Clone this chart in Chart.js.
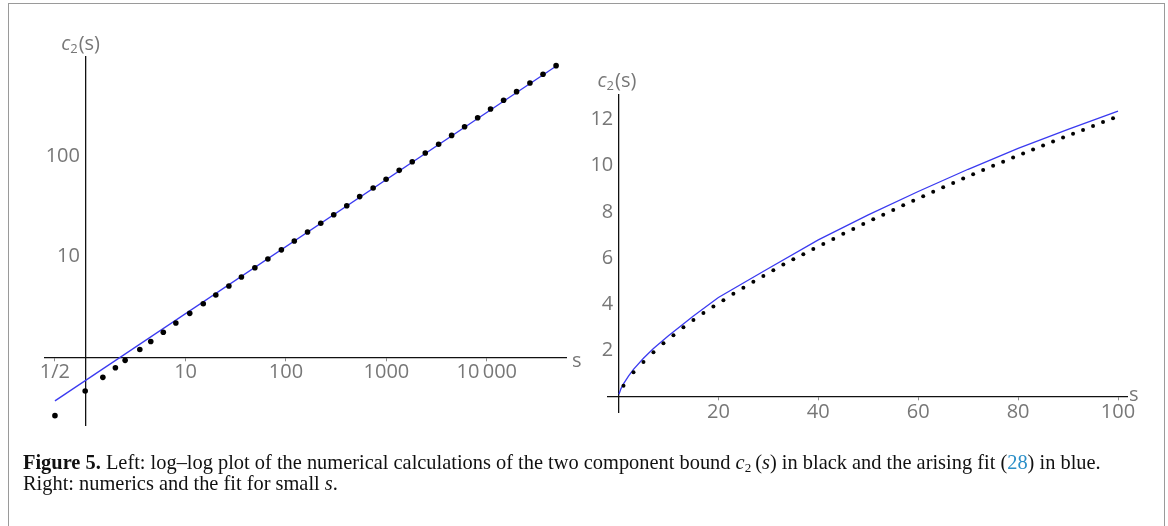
<!DOCTYPE html>
<html>
<head>
<meta charset="utf-8">
<script src="https://cdn.jsdelivr.net/npm/chart.js@4"></script>
<style>
  html, body { margin: 0; padding: 0; background: #fff; }
  body { width: 1168px; height: 526px; position: relative; overflow: hidden; }
  #frame { position: absolute; left: 8px; top: 3px; width: 1155px; height: 540px; border: 1.5px solid #9a9a9a; }
  #left { position: absolute; left: 0; top: 0; }
  #right { position: absolute; left: 590px; top: 40px; }
  #caption { position: absolute; left: 23px; top: 452px; width: 1130px; white-space: nowrap;
             font-family: "Liberation Serif", serif; font-size: 20.4px; line-height: 21px; color: #111; }
  #caption .ref { color: #2b8fc8; }
  #caption sub { font-size: 13px; vertical-align: -3px; line-height: 0; }
</style>
</head>
<body>
<div id="frame"></div>
<canvas id="left" width="590" height="440"></canvas>
<canvas id="right" width="578" height="420"></canvas>
<div id="caption"><b>Figure 5.</b> Left: log–log plot of the numerical calculations of the two component bound <i>c</i><sub>2</sub>&#8201;(<i>s</i>) in black and the arising fit (<span class="ref">28</span>) in blue.<br>Right: numerics and the fit for small <i>s</i>.</div>
<script>
// left panel: log-log numerics and fit
const leftS = [0.5, 1, 1.5, 2, 2.5, 3.5, 4.5, 6, 8, 11, 15, 20, 27, 36, 49, 66, 90, 121, 164, 222,
  299, 403, 542, 738, 993, 1342, 1810, 2440, 3313, 4465, 6010, 8110, 10900, 14700, 19800, 26900, 36300, 49000];
const leftC = [0.264, 0.464, 0.634, 0.79, 0.935, 1.2, 1.44, 1.78, 2.2, 2.74, 3.41, 4.17, 5.12, 6.29, 7.78, 9.5,
  11.7, 14.3, 17.6, 21.5, 26.1, 32.1, 39.5, 48.1, 58.7, 72, 87.7, 107, 130.6, 160, 195, 240, 293, 357, 435, 531, 648, 789];
const leftFitS = [0.5, 51000];
const leftFitC = [0.37, 800];
const leftXTicks = [0.5, 10, 100, 1000, 10000];
const leftXLabels = ['1/2', '10', '100', '1000', '10\u2009000'];
const leftYTicks = [10, 100];
const leftYLabels = ['10', '100'];

// right panel: linear, small s
const rightS = [1, 3, 5, 7, 9, 11, 13, 15, 17, 19, 21, 23, 25, 27, 29, 31, 33, 35, 37, 39, 41, 43, 45, 47, 49,
  51, 53, 55, 57, 59, 61, 63, 65, 67, 69, 71, 73, 75, 77, 79, 81, 83, 85, 87, 89, 91, 93, 95, 97, 99];
const rightC = [0.48, 1.07, 1.51, 1.93, 2.32, 2.67, 3.01, 3.33, 3.63, 3.91, 4.18, 4.46, 4.72, 4.98, 5.23, 5.48,
  5.72, 5.95, 6.17, 6.39, 6.61, 6.83, 7.05, 7.26, 7.47, 7.68, 7.88, 8.08, 8.28, 8.48, 8.67, 8.87, 9.06, 9.25,
  9.44, 9.63, 9.81, 9.99, 10.17, 10.35, 10.52, 10.69, 10.87, 11.04, 11.21, 11.38, 11.54, 11.71, 11.88, 12.05];
const rightFitS = [0.1, 0.5, 1, 2, 3, 5, 7, 10, 15, 20, 30, 40, 50, 60, 70, 80, 90, 100];
const rightFitC = [0.12, 0.36, 0.57, 0.9, 1.19, 1.67, 2.09, 2.65, 3.5, 4.3, 5.55, 6.79, 7.87, 8.88, 9.84, 10.74, 11.56, 12.35];
const rightXTicks = [20, 40, 60, 80, 100];
const rightYTicks = [2, 4, 6, 8, 10, 12];

const tickFont = { family: 'Open Sans', size: 20 };
const tickColor = '#777';
const fitBlue = '#3a3af0';

const pts = (xs, ys) => xs.map((x, i) => ({ x: x, y: ys[i] }));

// draws the "s" and "c2(s)" axis names at the axis ends
const axisNames = {
    id: 'axisNames',
    afterDraw(chart, args, opts) {
        const ctx = chart.ctx, xs = chart.scales.x, ys = chart.scales.y;
        const ax = xs.getPixelForValue(opts.originX), ay = ys.getPixelForValue(opts.originY);
        ctx.save();
        ctx.fillStyle = tickColor;
        ctx.textBaseline = 'middle';
        ctx.font = '20px "Open Sans"';
        ctx.textAlign = 'left';
        ctx.fillText('s', xs.right + opts.sdx, ay + opts.sdy);
        // c2(s)
        let x = ax + opts.cdx, y = ys.top + opts.cdy;
        ctx.font = 'italic 20px "Open Sans"';
        ctx.fillText('c', x, y);
        x += ctx.measureText('c').width;
        ctx.font = '13px "Open Sans"';
        ctx.fillText('2', x, y + 5);
        x += ctx.measureText('2').width + 1;
        ctx.font = '20px "Open Sans"';
        ctx.fillText('(s)', x, y);
        ctx.restore();
    }
};

// suffix: a vertical axis placed at a value ignores padding, so a trailing space keeps labels off the line
function axisOpts(type, min, max, ticks, labels, pos, suffix, tickMarks) {
    return {
        type: type, min: min, max: max, position: pos,
        afterBuildTicks: s => { s.ticks = ticks.map(v => ({ value: v })); },
        ticks: {
            font: tickFont, color: tickColor, padding: 0, autoSkip: false, maxRotation: 0,
            callback: v => labels[ticks.indexOf(v)] + suffix
        },
        grid: { drawOnChartArea: false, drawTicks: tickMarks, tickLength: 3, color: '#888' },
        border: { display: true, color: '#111', width: 1.3 }
    };
}

function leftChart() {
    const el = document.getElementById('left');
    new Chart(el.getContext('2d'), {
        type: 'scatter',
        data: {
            datasets: [
                { data: pts(leftS, leftC), backgroundColor: '#000', borderWidth: 0, pointRadius: 2.8, order: 0 },
                { data: pts(leftFitS, leftFitC), showLine: true, borderColor: fitBlue, borderWidth: 1.3, pointRadius: 0, order: 1 }
            ]
        },
        options: {
            responsive: false, animation: false, devicePixelRatio: 1,
            layout: { padding: { left: 45, top: 57, right: 24, bottom: 15 } },
            plugins: { legend: { display: false }, tooltip: { enabled: false },
                       axisNames: { originX: 1, originY: 1, sdx: 6, sdy: 4, cdx: -24, cdy: -13 } },
            scales: {
                x: axisOpts('logarithmic', 0.398, 61500, leftXTicks, leftXLabels, { y: 1 }, '', true),
                y: axisOpts('logarithmic', 0.2133, 961, leftYTicks, leftYLabels, { x: 1 }, ' ', false)
            }
        },
        plugins: [axisNames]
    });
}

function rightChart() {
    const el = document.getElementById('right');
    new Chart(el.getContext('2d'), {
        type: 'scatter',
        data: {
            datasets: [
                { data: pts(rightS, rightC), backgroundColor: '#000', borderWidth: 0, pointRadius: 2, order: 0 },
                { data: pts(rightFitS, rightFitC), showLine: true, borderColor: fitBlue, borderWidth: 1.3, pointRadius: 0, order: 1 }
            ]
        },
        options: {
            responsive: false, animation: false, devicePixelRatio: 1,
            layout: { padding: { left: 18, top: 55, right: 41, bottom: 48 } },
            plugins: { legend: { display: false }, tooltip: { enabled: false },
                       axisNames: { originX: 0, originY: 0, sdx: 2, sdy: -2, cdx: -21, cdy: -14 } },
            scales: {
                x: axisOpts('linear', -2.1, 101.8, rightXTicks, rightXTicks.map(String), { y: 0 }, '', true),
                y: axisOpts('linear', -0.65, 13.05, rightYTicks, rightYTicks.map(String), { x: 0 }, ' ', false)
            }
        },
        plugins: [axisNames]
    });
}

document.fonts.load('20px "Open Sans"').then(function () {
    leftChart();
    rightChart();
});
</script>
</body>
</html>
